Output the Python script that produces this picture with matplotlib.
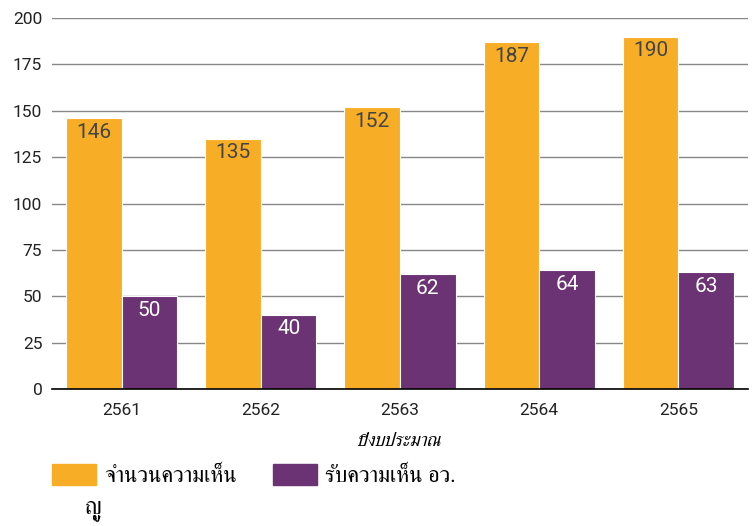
import matplotlib
matplotlib.use('Agg')
import matplotlib.pyplot as plt
from matplotlib.patches import Patch
import numpy as np

years = ['2561', '2562', '2563', '2564', '2565']
opinions = [146, 135, 152, 187, 190]
accepted = [50, 40, 62, 64, 63]
series_names = ['จำนวนความเห็น', 'รับความเห็น อว.']
x_title = 'ปีงบประมาณ'
stray_text = 'ญู'

ORANGE = '#f8ad27'
PURPLE = '#6b3274'

plt.rcParams['font.family'] = ['Roboto', 'DejaVu Sans']
thai = ['FreeSerif', 'Loma', 'DejaVu Sans']

fig = plt.figure(figsize=(7.56, 5.26), dpi=100)
ax = fig.add_axes([52/756, 1 - 389/526, 696/756, 371/526])

x = np.arange(len(years))
w = 0.4
b1 = ax.bar(x - w/2, opinions, w, color=ORANGE, edgecolor='white', linewidth=0.8)
b2 = ax.bar(x + w/2, accepted, w, color=PURPLE, edgecolor='white', linewidth=0.8)

for rect, v in zip(b1, opinions):
    ax.text(rect.get_x() + rect.get_width()/2, v - 2.5, str(v), ha='center', va='top',
            fontsize=15, color='#444444')
for rect, v in zip(b2, accepted):
    ax.text(rect.get_x() + rect.get_width()/2, v - 2.5, str(v), ha='center', va='top',
            fontsize=15, color='white')

ax.set_xlim(-0.5, len(years) - 0.5)
ax.set_ylim(0, 200)
ax.set_yticks(range(0, 201, 25))
ax.set_xticks(x)
ax.set_xticklabels(years)
ax.tick_params(axis='both', length=0, labelsize=12.5, colors='#222222')
ax.tick_params(axis='x', pad=10)
ax.tick_params(axis='y', pad=7)
ax.yaxis.grid(True, color='#888888', linewidth=1)
ax.set_axisbelow(True)
for s in ['top', 'right', 'left']:
    ax.spines[s].set_visible(False)
ax.spines['bottom'].set_color('black')
ax.spines['bottom'].set_linewidth(1.2)
ax.spines['bottom'].set_zorder(3)

fig.text(400/756, 1 - 441/526, x_title, ha='center', va='center', fontsize=13.5,
         style='italic', family=thai)

handles = [Patch(color=ORANGE, label=series_names[0]), Patch(color=PURPLE, label=series_names[1])]
fig.legend(handles=handles, loc='upper left', bbox_to_anchor=(52/756, 1 - 464/526), ncol=2,
           frameon=False, borderpad=0, borderaxespad=0, handlelength=2.0, handleheight=1.05,
           handletextpad=0.36, columnspacing=1.6, prop={'family': thai, 'size': 16})
fig.text(85/756, 1 - 510/526, stray_text, ha='left', va='center', fontsize=17, family=thai)

plt.savefig('out.png', dpi=100)
